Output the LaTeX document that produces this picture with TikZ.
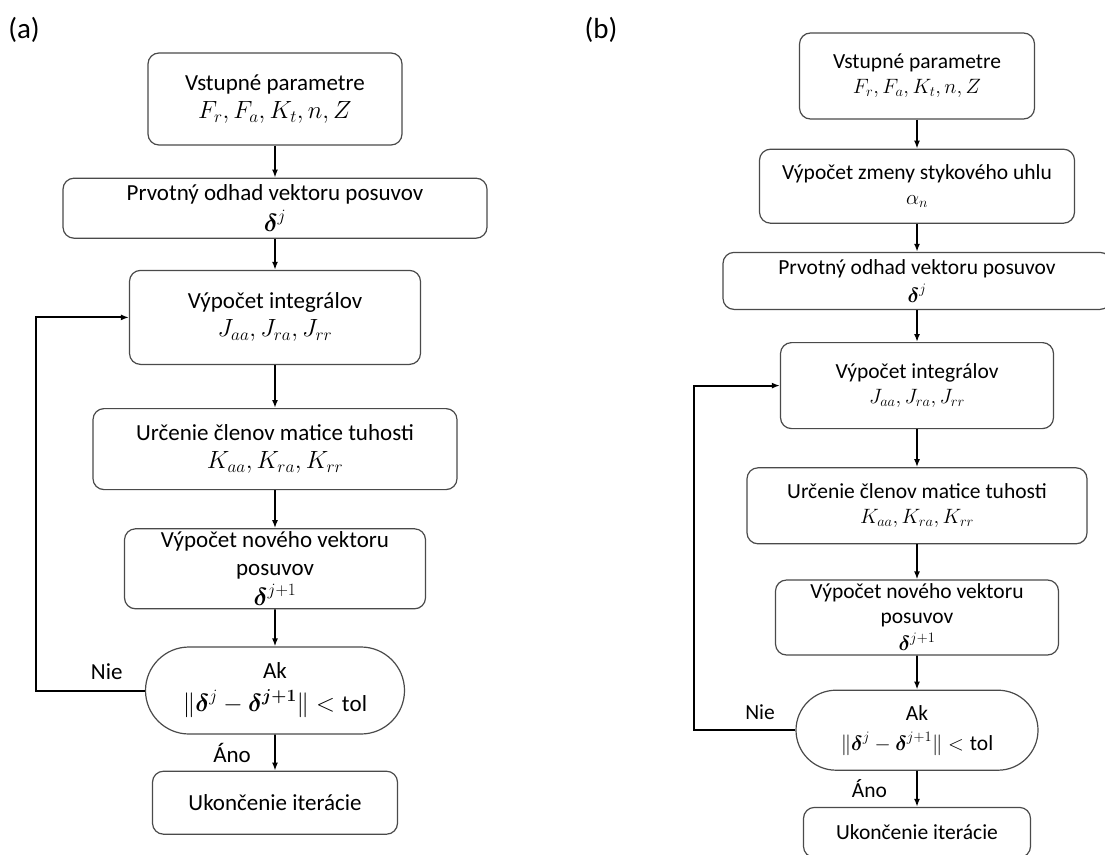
\documentclass[tikz,border=0pt]{standalone}
\usepackage{amsmath,amsbsy}
\usepackage{fontspec}
\setmainfont{Carlito}
\usepackage{tikz}
\usetikzlibrary{positioning,arrows.meta,shapes.misc}
\definecolor{rim}{HTML}{4A4A4A}

\begin{document}
\begin{tikzpicture}[x=1pt,y=-1pt,box/.style={draw=rim,line width=1.2pt,rounded corners=11pt,align=center,inner sep=1pt},cond/.style={draw=rim,line width=1.2pt,rounded rectangle,align=center,inner sep=1pt},arr/.style={-{Latex[length=8pt,width=6pt]},line width=1.6pt},txta/.style={font=\fontsize{23}{28}\selectfont},txtb/.style={font=\fontsize{21.5}{25}\selectfont}]
\useasboundingbox (0,0) rectangle (1105,854);
\node[font=\fontsize{29}{34}\selectfont] (laba) at (24,30) {(a)};
\node[font=\fontsize{29}{34}\selectfont] (labb) at (601,30) {(b)};

\begin{scope}[every node/.append style={txta}]
\node[box,minimum width=254pt,minimum height=92pt] (ina) at (275,99) {Vstupné parametre\\$F_r,F_a,K_t,n,Z$};
\node[box,minimum width=424pt,minimum height=60pt,below=32pt of ina,inner sep=0pt] (odha) {Prvotný odhad vektoru posuvov\\[3pt]$\boldsymbol{\delta}^j$};
\node[box,minimum width=291pt,minimum height=94pt,below=31pt of odha] (inta) {Výpočet integrálov\\$J_{aa},J_{ra},J_{rr}$};
\node[box,minimum width=364pt,minimum height=81pt,below=43pt of inta] (tuha) {Určenie členov matice tuhosti\\$K_{aa},K_{ra},K_{rr}$};
\node[box,minimum width=301pt,minimum height=80pt,below=38pt of tuha,inner sep=0pt] (nova) {Výpočet nového vektoru\\posuvov\\[2pt]$\boldsymbol{\delta}^{j+1}$};
\node[cond,minimum width=261pt,minimum height=87pt,below=37pt of nova] (kona) {Ak\\[5pt]$\|\boldsymbol{\delta}^j-\boldsymbol{\delta}^{\boldsymbol{j+1}}\|<\mathrm{tol}$};
\node[box,minimum width=245pt,minimum height=63pt,below=36pt of kona] (enda) {Ukončenie iterácie};
\draw[arr] (ina)--(odha); \draw[arr] (odha)--(inta); \draw[arr] (inta)--(tuha); \draw[arr] (tuha)--(nova); \draw[arr] (nova)--(kona);
\draw[arr] (kona)-- node[left=20pt] {Áno} (enda);
\draw[arr,line width=2pt] (kona.west)-- node[above=7pt,pos=0.35] {Nie} ++(-109,0) |- (inta.west);
\end{scope}

\begin{scope}[every node/.append style={txtb}]
\node[box,minimum width=235pt,minimum height=86pt] (inb) at (917,76) {Vstupné parametre\\$F_r,F_a,K_t,n,Z$};
\node[box,minimum width=315pt,minimum height=74pt,below=29pt of inb] (uhb) {Výpočet zmeny stykového uhlu\\$\alpha_n$};
\node[box,minimum width=388pt,minimum height=57pt,below=28pt of uhb,inner sep=0pt] (odhb) {Prvotný odhad vektoru posuvov\\[3pt]$\boldsymbol{\delta}^j$};
\node[box,minimum width=273pt,minimum height=86pt,below=32pt of odhb] (intb) {Výpočet integrálov\\$J_{aa},J_{ra},J_{rr}$};
\node[box,minimum width=340pt,minimum height=76pt,below=38pt of intb] (tuhb) {Určenie členov matice tuhosti\\$K_{aa},K_{ra},K_{rr}$};
\node[box,minimum width=283pt,minimum height=75pt,below=35pt of tuhb,inner sep=0pt] (novb) {Výpočet nového vektoru\\posuvov\\[2pt]$\boldsymbol{\delta}^{j+1}$};
\node[cond,minimum width=244pt,minimum height=80pt,below=34pt of novb] (konb) {Ak\\[5pt]$\|\boldsymbol{\delta}^j-\boldsymbol{\delta}^{j+1}\|<\mathrm{tol}$};
\node[box,minimum width=227pt,minimum height=50pt,below=36pt of konb] (endb) {Ukončenie iterácie};
\draw[arr] (inb)--(uhb); \draw[arr] (uhb)--(odhb); \draw[arr] (odhb)--(intb); \draw[arr] (intb)--(tuhb); \draw[arr] (tuhb)--(novb); \draw[arr] (novb)--(konb);
\draw[arr] (konb)-- node[left=26pt] {Áno} (endb);
\draw[arr,line width=2pt] (konb.west)-- node[above=6pt,pos=0.35] {Nie} ++(-101,0) |- (intb.west);
\end{scope}
\end{tikzpicture}
\end{document}
